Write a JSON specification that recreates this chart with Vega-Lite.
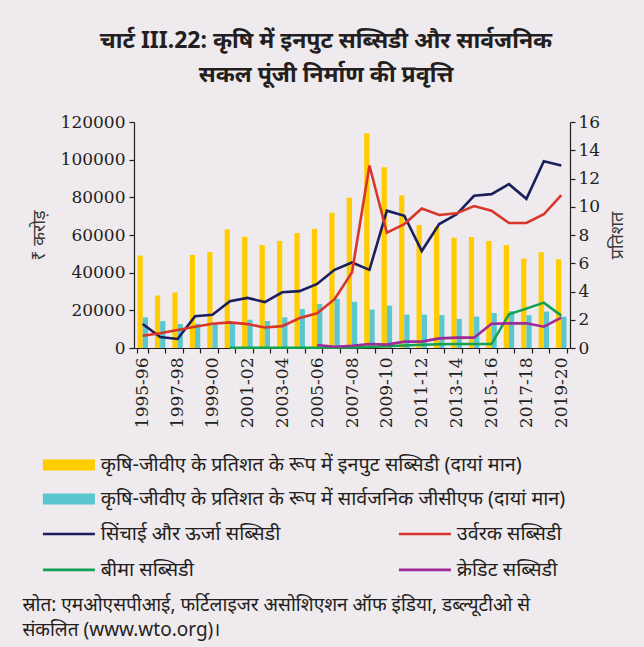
{
  "$schema": "https://vega.github.io/schema/vega-lite/v6.json",
  "autosize": "none",
  "width": 436,
  "height": 226,
  "padding": {"left": 134, "top": 122, "right": 74, "bottom": 299},
  "background": "#efeaed",
  "title": {
    "text": ["चार्ट III.22: कृषि में इनपुट सब्सिडी और सार्वजनिक", "सकल पूंजी निर्माण की प्रवृत्ति"],
    "font": "Liberation Sans Narrow, Noto Sans, sans-serif",
    "fontSize": 23,
    "fontWeight": "bold",
    "color": "#231f20",
    "anchor": "middle",
    "dx": -26,
    "offset": 26,
    "lineHeight": 34
  },
  "config": {
    "view": {"stroke": null},
    "axis": {
      "grid": false,
      "domainColor": "#231f20",
      "tickColor": "#231f20",
      "labelColor": "#231f20",
      "labelFont": "DejaVu Serif",
      "labelFontSize": 17,
      "domainWidth": 1.2,
      "tickWidth": 1.2,
      "tickSize": 5
    },
    "legend": {
      "labelFont": "Liberation Sans Narrow, Noto Sans, sans-serif",
      "labelFontSize": 19.8,
      "labelColor": "#231f20",
      "labelLimit": 700,
      "padding": 0
    }
  },
  "datasets": {
    "bars": [
      {"year": "1995-96", "series": "कृषि-जीवीए के प्रतिशत के रूप में इनपुट सब्सिडी (दायां मान)", "value": 6.54},
      {"year": "1996-97", "series": "कृषि-जीवीए के प्रतिशत के रूप में इनपुट सब्सिडी (दायां मान)", "value": 3.72},
      {"year": "1997-98", "series": "कृषि-जीवीए के प्रतिशत के रूप में इनपुट सब्सिडी (दायां मान)", "value": 3.93},
      {"year": "1998-99", "series": "कृषि-जीवीए के प्रतिशत के रूप में इनपुट सब्सिडी (दायां मान)", "value": 6.59},
      {"year": "1999-00", "series": "कृषि-जीवीए के प्रतिशत के रूप में इनपुट सब्सिडी (दायां मान)", "value": 6.8},
      {"year": "2000-01", "series": "कृषि-जीवीए के प्रतिशत के रूप में इनपुट सब्सिडी (दायां मान)", "value": 8.4},
      {"year": "2001-02", "series": "कृषि-जीवीए के प्रतिशत के रूप में इनपुट सब्सिडी (दायां मान)", "value": 7.88},
      {"year": "2002-03", "series": "कृषि-जीवीए के प्रतिशत के रूप में इनपुट सब्सिडी (दायां मान)", "value": 7.29},
      {"year": "2003-04", "series": "कृषि-जीवीए के प्रतिशत के रूप में इनपुट सब्सिडी (दायां मान)", "value": 7.58},
      {"year": "2004-05", "series": "कृषि-जीवीए के प्रतिशत के रूप में इनपुट सब्सिडी (दायां मान)", "value": 8.14},
      {"year": "2005-06", "series": "कृषि-जीवीए के प्रतिशत के रूप में इनपुट सब्सिडी (दायां मान)", "value": 8.43},
      {"year": "2006-07", "series": "कृषि-जीवीए के प्रतिशत के रूप में इनपुट सब्सिडी (दायां मान)", "value": 9.58},
      {"year": "2007-08", "series": "कृषि-जीवीए के प्रतिशत के रूप में इनपुट सब्सिडी (दायां मान)", "value": 10.64},
      {"year": "2008-09", "series": "कृषि-जीवीए के प्रतिशत के रूप में इनपुट सब्सिडी (दायां मान)", "value": 15.2},
      {"year": "2009-10", "series": "कृषि-जीवीए के प्रतिशत के रूप में इनपुट सब्सिडी (दायां मान)", "value": 12.8},
      {"year": "2010-11", "series": "कृषि-जीवीए के प्रतिशत के रूप में इनपुट सब्सिडी (दायां मान)", "value": 10.82},
      {"year": "2011-12", "series": "कृषि-जीवीए के प्रतिशत के रूप में इनपुट सब्सिडी (दायां मान)", "value": 8.7},
      {"year": "2012-13", "series": "कृषि-जीवीए के प्रतिशत के रूप में इनपुट सब्सिडी (दायां मान)", "value": 8.55},
      {"year": "2013-14", "series": "कृषि-जीवीए के प्रतिशत के रूप में इनपुट सब्सिडी (दायां मान)", "value": 7.81},
      {"year": "2014-15", "series": "कृषि-जीवीए के प्रतिशत के रूप में इनपुट सब्सिडी (दायां मान)", "value": 7.86},
      {"year": "2015-16", "series": "कृषि-जीवीए के प्रतिशत के रूप में इनपुट सब्सिडी (दायां मान)", "value": 7.58},
      {"year": "2016-17", "series": "कृषि-जीवीए के प्रतिशत के रूप में इनपुट सब्सिडी (दायां मान)", "value": 7.29},
      {"year": "2017-18", "series": "कृषि-जीवीए के प्रतिशत के रूप में इनपुट सब्सिडी (दायां मान)", "value": 6.33},
      {"year": "2018-19", "series": "कृषि-जीवीए के प्रतिशत के रूप में इनपुट सब्सिडी (दायां मान)", "value": 6.78},
      {"year": "2019-20", "series": "कृषि-जीवीए के प्रतिशत के रूप में इनपुट सब्सिडी (दायां मान)", "value": 6.28},
      {"year": "1995-96", "series": "कृषि-जीवीए के प्रतिशत के रूप में सार्वजनिक जीसीएफ (दायां मान)", "value": 2.17},
      {"year": "1996-97", "series": "कृषि-जीवीए के प्रतिशत के रूप में सार्वजनिक जीसीएफ (दायां मान)", "value": 1.91},
      {"year": "1997-98", "series": "कृषि-जीवीए के प्रतिशत के रूप में सार्वजनिक जीसीएफ (दायां मान)", "value": 1.7},
      {"year": "1998-99", "series": "कृषि-जीवीए के प्रतिशत के रूप में सार्वजनिक जीसीएफ (दायां मान)", "value": 1.72},
      {"year": "1999-00", "series": "कृषि-जीवीए के प्रतिशत के रूप में सार्वजनिक जीसीएफ (दायां मान)", "value": 1.75},
      {"year": "2000-01", "series": "कृषि-जीवीए के प्रतिशत के रूप में सार्वजनिक जीसीएफ (दायां मान)", "value": 1.75},
      {"year": "2001-02", "series": "कृषि-जीवीए के प्रतिशत के रूप में सार्वजनिक जीसीएफ (दायां मान)", "value": 2.0},
      {"year": "2002-03", "series": "कृषि-जीवीए के प्रतिशत के रूप में सार्वजनिक जीसीएफ (दायां मान)", "value": 1.91},
      {"year": "2003-04", "series": "कृषि-जीवीए के प्रतिशत के रूप में सार्वजनिक जीसीएफ (दायां मान)", "value": 2.17},
      {"year": "2004-05", "series": "कृषि-जीवीए के प्रतिशत के रूप में सार्वजनिक जीसीएफ (दायां मान)", "value": 2.76},
      {"year": "2005-06", "series": "कृषि-जीवीए के प्रतिशत के रूप में सार्वजनिक जीसीएफ (दायां मान)", "value": 3.12},
      {"year": "2006-07", "series": "कृषि-जीवीए के प्रतिशत के रूप में सार्वजनिक जीसीएफ (दायां मान)", "value": 3.47},
      {"year": "2007-08", "series": "कृषि-जीवीए के प्रतिशत के रूप में सार्वजनिक जीसीएफ (दायां मान)", "value": 3.27},
      {"year": "2008-09", "series": "कृषि-जीवीए के प्रतिशत के रूप में सार्वजनिक जीसीएफ (दायां मान)", "value": 2.72},
      {"year": "2009-10", "series": "कृषि-जीवीए के प्रतिशत के रूप में सार्वजनिक जीसीएफ (दायां मान)", "value": 3.0},
      {"year": "2010-11", "series": "कृषि-जीवीए के प्रतिशत के रूप में सार्वजनिक जीसीएफ (दायां मान)", "value": 2.36},
      {"year": "2011-12", "series": "कृषि-जीवीए के प्रतिशत के रूप में सार्वजनिक जीसीएफ (दायां मान)", "value": 2.36},
      {"year": "2012-13", "series": "कृषि-जीवीए के प्रतिशत के रूप में सार्वजनिक जीसीएफ (दायां मान)", "value": 2.33},
      {"year": "2013-14", "series": "कृषि-जीवीए के प्रतिशत के रूप में सार्वजनिक जीसीएफ (दायां मान)", "value": 2.06},
      {"year": "2014-15", "series": "कृषि-जीवीए के प्रतिशत के रूप में सार्वजनिक जीसीएफ (दायां मान)", "value": 2.22},
      {"year": "2015-16", "series": "कृषि-जीवीए के प्रतिशत के रूप में सार्वजनिक जीसीएफ (दायां मान)", "value": 2.48},
      {"year": "2016-17", "series": "कृषि-जीवीए के प्रतिशत के रूप में सार्वजनिक जीसीएफ (दायां मान)", "value": 2.61},
      {"year": "2017-18", "series": "कृषि-जीवीए के प्रतिशत के रूप में सार्वजनिक जीसीएफ (दायां मान)", "value": 2.32},
      {"year": "2018-19", "series": "कृषि-जीवीए के प्रतिशत के रूप में सार्वजनिक जीसीएफ (दायां मान)", "value": 2.58},
      {"year": "2019-20", "series": "कृषि-जीवीए के प्रतिशत के रूप में सार्वजनिक जीसीएफ (दायां मान)", "value": 2.22}
    ],
    "lines": [
      {"year": "1995-96", "series": "सिंचाई और ऊर्जा सब्सिडी", "value": 12700},
      {"year": "1996-97", "series": "सिंचाई और ऊर्जा सब्सिडी", "value": 5800},
      {"year": "1997-98", "series": "सिंचाई और ऊर्जा सब्सिडी", "value": 4800},
      {"year": "1998-99", "series": "सिंचाई और ऊर्जा सब्सिडी", "value": 16900},
      {"year": "1999-00", "series": "सिंचाई और ऊर्जा सब्सिडी", "value": 17600},
      {"year": "2000-01", "series": "सिंचाई और ऊर्जा सब्सिडी", "value": 24800},
      {"year": "2001-02", "series": "सिंचाई और ऊर्जा सब्सिडी", "value": 26600},
      {"year": "2002-03", "series": "सिंचाई और ऊर्जा सब्सिडी", "value": 24400},
      {"year": "2003-04", "series": "सिंचाई और ऊर्जा सब्सिडी", "value": 29600},
      {"year": "2004-05", "series": "सिंचाई और ऊर्जा सब्सिडी", "value": 30200},
      {"year": "2005-06", "series": "सिंचाई और ऊर्जा सब्सिडी", "value": 34000},
      {"year": "2006-07", "series": "सिंचाई और ऊर्जा सब्सिडी", "value": 41500},
      {"year": "2007-08", "series": "सिंचाई और ऊर्जा सब्सिडी", "value": 45400},
      {"year": "2008-09", "series": "सिंचाई और ऊर्जा सब्सिडी", "value": 41500},
      {"year": "2009-10", "series": "सिंचाई और ऊर्जा सब्सिडी", "value": 72900},
      {"year": "2010-11", "series": "सिंचाई और ऊर्जा सब्सिडी", "value": 70200},
      {"year": "2011-12", "series": "सिंचाई और ऊर्जा सब्सिडी", "value": 51500},
      {"year": "2012-13", "series": "सिंचाई और ऊर्जा सब्सिडी", "value": 65800},
      {"year": "2013-14", "series": "सिंचाई और ऊर्जा सब्सिडी", "value": 71000},
      {"year": "2014-15", "series": "सिंचाई और ऊर्जा सब्सिडी", "value": 80800},
      {"year": "2015-16", "series": "सिंचाई और ऊर्जा सब्सिडी", "value": 81700},
      {"year": "2016-17", "series": "सिंचाई और ऊर्जा सब्सिडी", "value": 87000},
      {"year": "2017-18", "series": "सिंचाई और ऊर्जा सब्सिडी", "value": 79200},
      {"year": "2018-19", "series": "सिंचाई और ऊर्जा सब्सिडी", "value": 99200},
      {"year": "2019-20", "series": "सिंचाई और ऊर्जा सब्सिडी", "value": 96900},
      {"year": "1995-96", "series": "उर्वरक सब्सिडी", "value": 6500},
      {"year": "1996-97", "series": "उर्वरक सब्सिडी", "value": 7800},
      {"year": "1997-98", "series": "उर्वरक सब्सिडी", "value": 9600},
      {"year": "1998-99", "series": "उर्वरक सब्सिडी", "value": 11300},
      {"year": "1999-00", "series": "उर्वरक सब्सिडी", "value": 12900},
      {"year": "2000-01", "series": "उर्वरक सब्सिडी", "value": 13600},
      {"year": "2001-02", "series": "उर्वरक सब्सिडी", "value": 12700},
      {"year": "2002-03", "series": "उर्वरक सब्सिडी", "value": 10900},
      {"year": "2003-04", "series": "उर्वरक सब्सिडी", "value": 11600},
      {"year": "2004-05", "series": "उर्वरक सब्सिडी", "value": 15900},
      {"year": "2005-06", "series": "उर्वरक सब्सिडी", "value": 18400},
      {"year": "2006-07", "series": "उर्वरक सब्सिडी", "value": 25900},
      {"year": "2007-08", "series": "उर्वरक सब्सिडी", "value": 40100},
      {"year": "2008-09", "series": "उर्वरक सब्सिडी", "value": 96900},
      {"year": "2009-10", "series": "उर्वरक सब्सिडी", "value": 61200},
      {"year": "2010-11", "series": "उर्वरक सब्सिडी", "value": 65800},
      {"year": "2011-12", "series": "उर्वरक सब्सिडी", "value": 74100},
      {"year": "2012-13", "series": "उर्वरक सब्सिडी", "value": 70600},
      {"year": "2013-14", "series": "उर्वरक सब्सिडी", "value": 71500},
      {"year": "2014-15", "series": "उर्वरक सब्सिडी", "value": 75400},
      {"year": "2015-16", "series": "उर्वरक सब्सिडी", "value": 72900},
      {"year": "2016-17", "series": "उर्वरक सब्सिडी", "value": 66400},
      {"year": "2017-18", "series": "उर्वरक सब्सिडी", "value": 66400},
      {"year": "2018-19", "series": "उर्वरक सब्सिडी", "value": 71000},
      {"year": "2019-20", "series": "उर्वरक सब्सिडी", "value": 81200},
      {"year": "2000-01", "series": "बीमा सब्सिडी", "value": 100},
      {"year": "2001-02", "series": "बीमा सब्सिडी", "value": 100},
      {"year": "2002-03", "series": "बीमा सब्सिडी", "value": 100},
      {"year": "2003-04", "series": "बीमा सब्सिडी", "value": 100},
      {"year": "2004-05", "series": "बीमा सब्सिडी", "value": 100},
      {"year": "2005-06", "series": "बीमा सब्सिडी", "value": 100},
      {"year": "2006-07", "series": "बीमा सब्सिडी", "value": 200},
      {"year": "2007-08", "series": "बीमा सब्सिडी", "value": 300},
      {"year": "2008-09", "series": "बीमा सब्सिडी", "value": 500},
      {"year": "2009-10", "series": "बीमा सब्सिडी", "value": 900},
      {"year": "2010-11", "series": "बीमा सब्सिडी", "value": 1300},
      {"year": "2011-12", "series": "बीमा सब्सिडी", "value": 1700},
      {"year": "2012-13", "series": "बीमा सब्सिडी", "value": 2000},
      {"year": "2013-14", "series": "बीमा सब्सिडी", "value": 2100},
      {"year": "2014-15", "series": "बीमा सब्सिडी", "value": 2100},
      {"year": "2015-16", "series": "बीमा सब्सिडी", "value": 2100},
      {"year": "2016-17", "series": "बीमा सब्सिडी", "value": 17900},
      {"year": "2017-18", "series": "बीमा सब्सिडी", "value": 20900},
      {"year": "2018-19", "series": "बीमा सब्सिडी", "value": 24100},
      {"year": "2019-20", "series": "बीमा सब्सिडी", "value": 17200},
      {"year": "2005-06", "series": "क्रेडिट सब्सिडी", "value": 1600},
      {"year": "2006-07", "series": "क्रेडिट सब्सिडी", "value": 700},
      {"year": "2007-08", "series": "क्रेडिट सब्सिडी", "value": 1200},
      {"year": "2008-09", "series": "क्रेडिट सब्सिडी", "value": 2100},
      {"year": "2009-10", "series": "क्रेडिट सब्सिडी", "value": 1800},
      {"year": "2010-11", "series": "क्रेडिट सब्सिडी", "value": 3400},
      {"year": "2011-12", "series": "क्रेडिट सब्सिडी", "value": 3400},
      {"year": "2012-13", "series": "क्रेडिट सब्सिडी", "value": 5100},
      {"year": "2013-14", "series": "क्रेडिट सब्सिडी", "value": 5500},
      {"year": "2014-15", "series": "क्रेडिट सब्सिडी", "value": 5500},
      {"year": "2015-16", "series": "क्रेडिट सब्सिडी", "value": 12900},
      {"year": "2016-17", "series": "क्रेडिट सब्सिडी", "value": 13100},
      {"year": "2017-18", "series": "क्रेडिट सब्सिडी", "value": 13100},
      {"year": "2018-19", "series": "क्रेडिट सब्सिडी", "value": 11300},
      {"year": "2019-20", "series": "क्रेडिट सब्सिडी", "value": 16100}
    ]
  },
  "layer": [
    {
      "data": {"name": "bars"},
      "mark": {"type": "bar"},
      "encoding": {
        "x": {
          "field": "year",
          "type": "ordinal",
          "scale": {"paddingInner": 0.4, "paddingOuter": 0.2},
          "axis": {
            "labelAngle": -90,
            "labelFont": "DejaVu Serif",
            "labelFontSize": 17,
            "labelExpr": "toNumber(substring(datum.value, 0, 4)) % 2 == 1 ? datum.value : ''",
            "tickBand": "extent",
            "labelPadding": 4,
            "title": ["स्रोत: एमओएसपीआई, फर्टिलाइजर असोशिएशन ऑफ इंडिया, डब्ल्यूटीओ से", "संकलित (www.wto.org)।"],
            "titleFont": "Liberation Sans Narrow, Noto Sans, sans-serif",
            "titleFontSize": 19,
            "titleFontWeight": "normal",
            "titleColor": "#231f20",
            "titleAnchor": "start",
            "titleAlign": "left",
            "titleBaseline": "top",
            "titleX": -112,
            "titleY": 247,
            "titleLineHeight": 25
          }
        },
        "xOffset": {
          "field": "series",
          "type": "nominal",
          "scale": {
            "domain": ["कृषि-जीवीए के प्रतिशत के रूप में इनपुट सब्सिडी (दायां मान)", "कृषि-जीवीए के प्रतिशत के रूप में सार्वजनिक जीसीएफ (दायां मान)"],
            "paddingInner": 0,
            "paddingOuter": 0
          }
        },
        "y": {
          "field": "value",
          "type": "quantitative",
          "scale": {"domain": [0, 16], "nice": false},
          "axis": {
            "orient": "right",
            "values": [0, 2, 4, 6, 8, 10, 12, 14, 16],
            "labelFont": "DejaVu Serif",
            "labelFontSize": 17,
            "labelPadding": 3,
            "title": "प्रतिशत",
            "titleAngle": 270,
            "titleFont": "Liberation Sans Narrow, Noto Sans, sans-serif",
            "titleFontSize": 18,
            "titleFontWeight": "normal",
            "titleColor": "#3a3a3a",
            "titlePadding": 27
          }
        },
        "color": {
          "field": "series",
          "type": "nominal",
          "scale": {
            "domain": ["कृषि-जीवीए के प्रतिशत के रूप में इनपुट सब्सिडी (दायां मान)", "कृषि-जीवीए के प्रतिशत के रूप में सार्वजनिक जीसीएफ (दायां मान)"],
            "range": ["#ffcc00", "#5ac6cf"]
          },
          "legend": {
            "orient": "none",
            "legendX": -75,
            "legendY": 333,
            "title": null,
            "direction": "vertical",
            "symbolType": "M-3.25,-0.69H3.25V0.69H-3.25Z",
            "symbolSize": 256,
            "symbolStrokeWidth": 0,
            "labelOffset": 22,
            "rowPadding": 13
          }
        }
      }
    },
    {
      "data": {"name": "lines"},
      "mark": {"type": "line", "strokeWidth": 2.6},
      "encoding": {
        "x": {"field": "year", "type": "ordinal"},
        "y": {
          "field": "value",
          "type": "quantitative",
          "scale": {"domain": [0, 120000], "nice": false},
          "axis": {
            "orient": "left",
            "values": [0, 20000, 40000, 60000, 80000, 100000, 120000],
            "format": "d",
            "labelFont": "DejaVu Serif",
            "labelFontSize": 17,
            "labelPadding": 4,
            "title": "₹ करोड़",
            "titleFont": "Liberation Sans Narrow, Noto Sans, sans-serif",
            "titleFontSize": 18,
            "titleFontWeight": "normal",
            "titleColor": "#3a3a3a",
            "titlePadding": 12
          }
        },
        "stroke": {
          "field": "series",
          "type": "nominal",
          "scale": {
            "domain": ["सिंचाई और ऊर्जा सब्सिडी", "उर्वरक सब्सिडी", "बीमा सब्सिडी", "क्रेडिट सब्सिडी"],
            "range": ["#1b1f5e", "#d9352a", "#12a150", "#9c2a97"]
          },
          "legend": {
            "orient": "none",
            "legendX": -75,
            "legendY": 402,
            "title": null,
            "columns": 2,
            "direction": "horizontal",
            "columnPadding": 112,
            "symbolType": "M-3.25,0H3.25",
            "symbolSize": 256,
            "symbolStrokeWidth": 2.6,
            "labelOffset": 22,
            "rowPadding": 15
          }
        }
      }
    }
  ],
  "resolve": {
    "scale": {"y": "independent"},
    "axis": {"y": "independent"},
    "legend": {"color": "independent", "stroke": "independent"}
  }
}
